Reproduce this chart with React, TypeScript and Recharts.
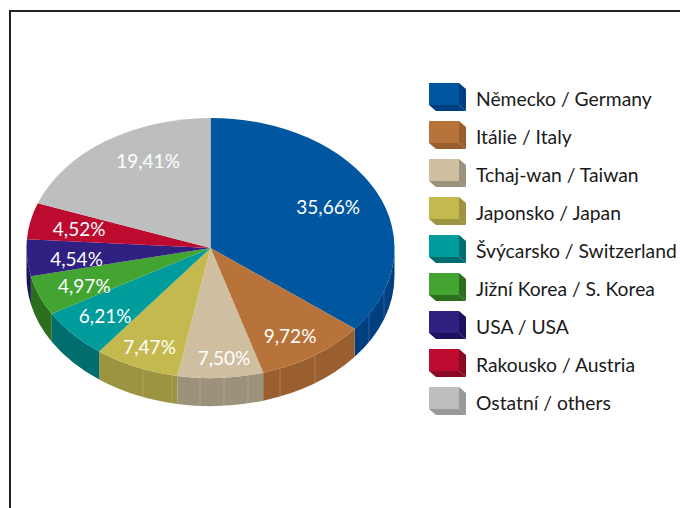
import React from 'react'
import { PieChart, Pie, Legend } from 'recharts'

const names = [
  'Německo / Germany',
  'Itálie / Italy',
  'Tchaj-wan / Taiwan',
  'Japonsko / Japan',
  'Švýcarsko / Switzerland',
  'Jižní Korea / S. Korea',
  'USA / USA',
  'Rakousko / Austria',
  'Ostatní / others',
]
const shares = [35.66, 9.72, 7.5, 7.47, 6.21, 4.97, 4.54, 4.52, 19.41]
const topColors = ['#00569f', '#b8733a', '#cfbfa0', '#c4b94f', '#009b9b', '#43a432', '#2f2081', '#bd0b30', '#bdbfbe']
const sideColors = ['#003f80', '#9a5f2e', '#9c917a', '#9c9440', '#006e6e', '#2b6f1c', '#1d1260', '#8a0a24', '#98999a']

const chartData = names.map((name, i) => ({ name, value: shares[i], fill: topColors[i] }))

const FONT = 'Lato, "Open Sans", sans-serif'
const SQUASH = 0.707
const DEPTH = 28
const RAD = Math.PI / 180
// layout: radial placement of the value labels, plus small hand nudges in px
const labelFactors = [0.71, 0.8, 0.84, 0.82, 0.78, 0.76, 0.73, 0.73, 0.64]
const labelDx = [0, -3, 5, 0, 2, 4, 0, 0, 5]
const labelDy = [-1, 1, 0, 1, 0, 1, 3, 0, -19]
// x positions of the faint seams on the pie's outer wall
const seamXs = [143, 172, 200, 224, 248, 280, 315, 369, 384]

const pointAt = (cx: number, cy: number, r: number, deg: number) => ({
  x: cx + r * Math.cos(deg * RAD),
  y: cy - r * SQUASH * Math.sin(deg * RAD),
})

function TopSlice(props: any) {
  const { cx, cy, outerRadius: r, startAngle, endAngle, fill } = props
  const a = pointAt(cx, cy, r, startAngle)
  const b = pointAt(cx, cy, r, endAngle)
  const large = Math.abs(endAngle - startAngle) > 180 ? 1 : 0
  const ry = r * SQUASH
  return (
    <g>
      <path d={`M${cx},${cy} L${a.x},${a.y} A${r},${ry} 0 ${large} 1 ${b.x},${b.y} Z`} fill={fill} stroke="none" />
    </g>
  )
}

function SideSlice(props: any) {
  const { cx, cy, outerRadius: r, startAngle, endAngle, index } = props
  // only the part of the wall in the lower half of the ellipse shows
  const from = Math.min(startAngle, 0)
  const to = Math.max(endAngle, -180)
  if (from <= to) return <g />
  const ry = r * SQUASH
  const a = pointAt(cx, cy, r, from)
  const b = pointAt(cx, cy, r, to)
  const xMin = Math.min(a.x, b.x)
  const xMax = Math.max(a.x, b.x)
  const seams = seamXs.filter(x => x > xMin && x < xMax)
  return (
    <g>
      <path
        d={`M${a.x},${a.y} A${r},${ry} 0 0 1 ${b.x},${b.y} L${b.x},${b.y + DEPTH} A${r},${ry} 0 0 0 ${a.x},${a.y + DEPTH} Z`}
        fill={sideColors[index]}
        stroke="none"
      />
      {seams.map(x => {
        const t = (x - cx) / r
        const y = cy + ry * Math.sqrt(1 - t * t)
        return <line key={x} x1={x} x2={x} y1={y} y2={y + DEPTH} stroke="#fff" strokeOpacity={0.18} />
      })}
    </g>
  )
}

const renderLabel = (props: any) => {
  const { cx, cy, midAngle, outerRadius, index, value } = props
  const p = pointAt(cx, cy, outerRadius * labelFactors[index], midAngle)
  return (
    <text
      x={p.x + labelDx[index]}
      y={p.y + labelDy[index]}
      fill="#fff"
      fontSize={19}
      fontFamily={FONT}
      textAnchor="middle"
      dominantBaseline="central"
    >
      {value.toFixed(2).replace('.', ',')}%
    </text>
  )
}

function LegendBlock() {
  return (
    <svg width={260} height={350} style={{ display: 'block' }}>
      {names.map((name, i) => {
        const y = 3 + i * 38
        return (
          <g key={name}>
            <rect x={9} y={y} width={30} height={22} fill={topColors[i]} />
            <polygon points={`39,${y} 46,${y + 6} 46,${y + 28} 39,${y + 22}`} fill={sideColors[i]} />
            <polygon points={`9,${y + 22} 39,${y + 22} 46,${y + 28} 16,${y + 28}`} fill={sideColors[i]} />
            <text x={56} y={y + 15} fontSize={19.3} fontFamily={FONT} fill="#1a1a1a" dominantBaseline="central">
              {name}
            </text>
          </g>
        )
      })}
    </svg>
  )
}

export default function App() {
  return (
    <div style={{ position: 'absolute', left: 0, top: 0, width: 680, height: 508, overflow: 'hidden', background: '#fff' }}>
      <div style={{ position: 'absolute', left: 9, top: 10, width: 680, height: 508, borderLeft: '2px solid #222', borderTop: '2px solid #222' }} />
      <div style={{ position: 'absolute', left: 0, top: 0 }}>
        <PieChart width={680} height={508} margin={{ top: 0, right: 0, bottom: 0, left: 0 }}>
          <Legend
            layout="vertical"
            align="right"
            verticalAlign="top"
            wrapperStyle={{ left: 420, top: 80, width: 260 }}
            content={() => <LegendBlock />}
          />
          <Pie
            data={chartData}
            dataKey="value"
            nameKey="name"
            cx={210.5}
            cy={248}
            outerRadius={184}
            startAngle={90}
            endAngle={-270}
            stroke="none"
            legendType="none"
            shape={SideSlice}
            isAnimationActive={false}
          />
          <Pie
            data={chartData}
            dataKey="value"
            nameKey="name"
            cx={210.5}
            cy={248}
            outerRadius={184}
            startAngle={90}
            endAngle={-270}
            stroke="none"
            shape={TopSlice}
            label={renderLabel}
            labelLine={false}
            isAnimationActive={false}
          />
        </PieChart>
      </div>
    </div>
  )
}
